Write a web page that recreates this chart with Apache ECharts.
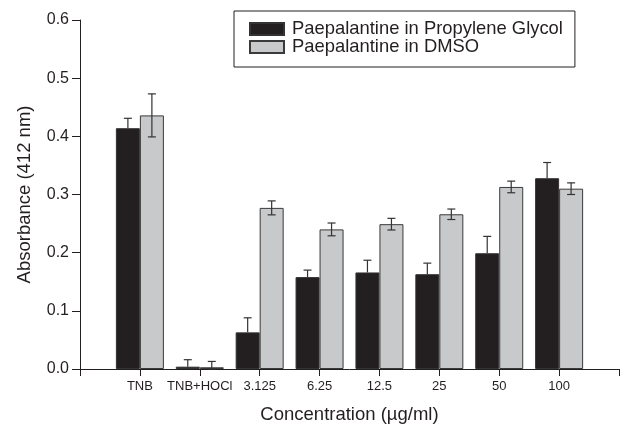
<!DOCTYPE html>
<html>
<head>
<meta charset="utf-8">
<script src="https://cdn.jsdelivr.net/npm/echarts@6/dist/echarts.min.js"></script>
<style>
  html, body { margin: 0; padding: 0; background: #fff; }
  #chart { width: 627px; height: 429px; }
</style>
</head>
<body>
<div id="chart"></div>
<script>
// x categories (blank slots at both ends so the axis runs from the y axis to the last tick)
const categories = ["TNB", "TNB+HOCl", "3.125", "6.25", "12.5", "25", "50", "100"];
const yTicks = [0, 0.1, 0.2, 0.3, 0.4, 0.5, 0.6];

// absorbance at 412 nm
const propyleneGlycol = [0.414, 0.004, 0.063, 0.158, 0.166, 0.163, 0.199, 0.328];
const propyleneGlycolErr = [0.017, 0.012, 0.025, 0.012, 0.021, 0.019, 0.029, 0.027];
const dmso = [0.436, 0.003, 0.277, 0.240, 0.249, 0.266, 0.313, 0.310];
const dmsoErr = [0.037, 0.010, 0.012, 0.011, 0.010, 0.009, 0.010, 0.010];

const font = "Liberation Sans";
const ink = "#231f20";
const barW = 24;

const axisData = [""].concat(categories).concat([""]);
const pad = (arr) => ["-"].concat(arr).concat(["-"]);
// upOnly: the lower half would sit inside a black bar anyway
const errData = (vals, errs, upOnly) =>
  vals.map((v, i) => [i + 1, upOnly ? v : Math.max(0, v - errs[i]), v + errs[i], upOnly ? 0 : 1]);

// draws a capped error bar, shifted sideways onto its own bar
function errorBar(offset) {
  return function (params, api) {
    const x = api.value(0);
    const lo = api.coord([x, api.value(1)]);
    const hi = api.coord([x, api.value(2)]);
    const cx = lo[0] + offset;
    const half = 4;
    const st = { stroke: "#333", lineWidth: 1.2 };
    const kids = [
      { type: "line", shape: { x1: cx, y1: lo[1], x2: cx, y2: hi[1] }, style: st },
      { type: "line", shape: { x1: cx - half, y1: hi[1], x2: cx + half, y2: hi[1] }, style: st },
    ];
    if (api.value(3)) {
      kids.push({ type: "line", shape: { x1: cx - half, y1: lo[1], x2: cx + half, y2: lo[1] }, style: st });
    }
    return { type: "group", children: kids };
  };
}

const chart = echarts.init(document.getElementById("chart"), null, { renderer: "canvas" });

const option = {
  animation: false,
  textStyle: { fontFamily: font, color: ink },
  grid: { left: 80, right: 8, top: 20, bottom: 60, containLabel: false },
  legend: {
    data: ["Paepalantine in Propylene Glycol", "Paepalantine in DMSO"],
    orient: "vertical",
    left: 234,
    top: 11,
    padding: [9, 12, 11, 15],
    itemWidth: 34,
    itemHeight: 12,
    itemGap: 0,
    icon: "rect",
    borderColor: ink,
    borderWidth: 1,
    borderRadius: 0,
    textStyle: { fontFamily: font, fontSize: 18.4, color: ink, lineHeight: 18, padding: [0, 0, 0, 3] },
    selectedMode: false,
  },
  xAxis: {
    type: "category",
    data: axisData,
    boundaryGap: false,
    name: "Concentration (\u00b5g/ml)",
    nameLocation: "middle",
    nameGap: 36,
    nameTextStyle: { fontFamily: font, fontSize: 18.5, color: ink },
    axisLine: { lineStyle: { color: ink, width: 1 } },
    axisTick: { show: true, interval: 0, length: 7, lineStyle: { color: ink } },
    axisLabel: { interval: 0, fontSize: 13, color: ink, margin: 11, fontFamily: font },
    splitLine: { show: false },
  },
  yAxis: {
    type: "value",
    min: yTicks[0],
    max: yTicks[yTicks.length - 1],
    interval: 0.1,
    name: "Absorbance (412 nm)",
    nameLocation: "middle",
    nameGap: 46,
    nameTextStyle: { fontFamily: font, fontSize: 18.5, color: ink },
    axisLine: { show: true, lineStyle: { color: ink, width: 1 } },
    axisTick: { show: true, length: 8, lineStyle: { color: ink } },
    axisLabel: { fontSize: 16, color: ink, margin: 11, fontFamily: font, formatter: (v) => v.toFixed(1) },
    splitLine: { show: false },
  },
  series: [
    {
      name: "Paepalantine in Propylene Glycol",
      type: "bar",
      data: pad(propyleneGlycol),
      barWidth: barW,
      barGap: "0%",
      itemStyle: { color: ink, borderColor: "#333", borderWidth: 1 },
    },
    {
      name: "Paepalantine in DMSO",
      type: "bar",
      data: pad(dmso),
      barWidth: barW,
      barGap: "0%",
      itemStyle: { color: "#c8c9cb", borderColor: "#3a3a3a", borderWidth: 1 },
    },
    {
      type: "custom",
      renderItem: errorBar(-barW / 2),
      data: errData(propyleneGlycol, propyleneGlycolErr, true),
      z: 5,
      silent: true,
    },
    {
      type: "custom",
      renderItem: errorBar(barW / 2),
      data: errData(dmso, dmsoErr, false),
      z: 5,
      silent: true,
    },
  ],
};

chart.setOption(option);
</script>
</body>
</html>
